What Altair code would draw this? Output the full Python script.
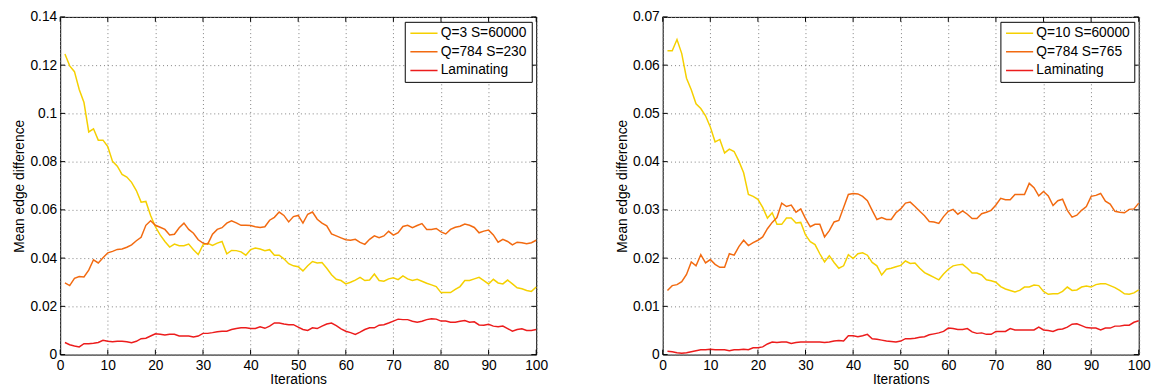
import altair as alt
import pandas as pd

iters = list(range(1, 101))

left_q3 = [0.1246, 0.1197, 0.1173, 0.1099, 0.1045, 0.0923, 0.0936, 0.0889, 0.0889, 0.0862,
           0.0801, 0.0781, 0.0747, 0.0736, 0.0714, 0.068, 0.0632,
           0.0635, 0.0577, 0.053, 0.0496, 0.0469, 0.0446, 0.0458, 0.0451, 0.0451, 0.0458,
           0.0435, 0.0415, 0.0455, 0.0461, 0.0453, 0.0462, 0.0469, 0.0418, 0.0432, 0.0431,
           0.0426, 0.0412, 0.0435, 0.0442, 0.0438, 0.0431, 0.0435, 0.0412,
           0.0412, 0.0397, 0.0377, 0.0368, 0.0364, 0.0347, 0.0368, 0.0386, 0.038, 0.0382,
           0.0358, 0.0331, 0.0312, 0.0307, 0.0293, 0.03, 0.0309, 0.032, 0.0307, 0.0309,
           0.0334, 0.0307, 0.0304, 0.0314, 0.0318, 0.0311, 0.0326, 0.0314, 0.0307, 0.0312,
           0.0304, 0.0296, 0.0289, 0.0282, 0.0257, 0.0257, 0.0257, 0.027, 0.0282, 0.0307,
           0.0307, 0.0314, 0.032, 0.0307, 0.0293, 0.0312, 0.0297, 0.0293, 0.0309, 0.0293,
           0.0277, 0.0273, 0.0266, 0.0262, 0.028]
left_q784 = [0.0297, 0.0286, 0.0316, 0.0324, 0.0322, 0.035, 0.0393, 0.038, 0.0401, 0.0422,
             0.0428, 0.0436, 0.0438, 0.0445, 0.0455, 0.0472, 0.0486, 0.0536, 0.0555, 0.0536,
             0.0528, 0.0519, 0.0496, 0.0499, 0.0526, 0.0545, 0.0519, 0.0503, 0.0476, 0.0462,
             0.0458, 0.0499, 0.0519, 0.0526, 0.0545, 0.0555, 0.0546, 0.0536, 0.0536, 0.0535,
             0.053, 0.0527, 0.053, 0.0557, 0.0569,
             0.0591, 0.0577, 0.055, 0.0572, 0.0577, 0.0545, 0.0582, 0.0591, 0.0561, 0.0545,
             0.0534, 0.05, 0.0492, 0.0484, 0.0476, 0.0474, 0.0478, 0.0465, 0.0457, 0.0478,
             0.0492, 0.0485, 0.0492, 0.0511, 0.0495, 0.0505, 0.0531, 0.0536, 0.0526, 0.0535,
             0.0543, 0.0519, 0.0519, 0.0523, 0.0509, 0.05, 0.0519, 0.0528, 0.0532, 0.0541,
             0.0536, 0.0527, 0.0505, 0.0512, 0.0516, 0.0496, 0.0466, 0.0478, 0.0469, 0.0455,
             0.0466, 0.0464, 0.046, 0.0464, 0.0474]
left_lam = [0.005, 0.0041, 0.0036, 0.0032, 0.0045, 0.0045, 0.0047, 0.005, 0.0059, 0.0055,
            0.0053, 0.0055, 0.0055, 0.0053, 0.0049, 0.0055, 0.0066, 0.0068, 0.0077, 0.0086,
            0.0084, 0.0081, 0.0084, 0.0084, 0.0077, 0.0077, 0.0077, 0.0073, 0.0077, 0.0088,
            0.0088, 0.0091, 0.0095, 0.0097, 0.0097, 0.0104, 0.0108, 0.0111, 0.0111, 0.0108,
            0.0108, 0.0115, 0.0109, 0.0118, 0.0131, 0.0131,
            0.0127, 0.0124, 0.0124, 0.0114, 0.0104, 0.01, 0.0111, 0.0108, 0.0118, 0.0127,
            0.0131, 0.012, 0.0107, 0.0097, 0.0091, 0.0084, 0.0093, 0.0104, 0.0111, 0.0111,
            0.0122, 0.0124, 0.0131, 0.0139, 0.0147, 0.0145, 0.0145, 0.0138, 0.0134, 0.0138,
            0.0145, 0.0149, 0.0147, 0.0139, 0.0139, 0.0134, 0.0134, 0.0138, 0.0141, 0.0134,
            0.0136, 0.0123, 0.0122, 0.0126, 0.0118, 0.0115, 0.0118, 0.0108, 0.0097, 0.0104,
            0.0107, 0.01, 0.01, 0.0104]

right_q10 = [0.063, 0.063, 0.0653, 0.0624, 0.0573, 0.0549, 0.052, 0.051, 0.0495, 0.0472,
             0.0441, 0.0446, 0.0418, 0.0426, 0.0421, 0.0401, 0.0377,
             0.0332, 0.0328, 0.0322, 0.0305, 0.0283, 0.0294, 0.027, 0.027, 0.0283, 0.0283,
             0.0273, 0.0274, 0.0248, 0.0234, 0.0228, 0.0209, 0.0192, 0.0205, 0.0191, 0.0179,
             0.0184, 0.0207, 0.0199, 0.0209, 0.0211, 0.0206, 0.0191, 0.0184,
             0.0165, 0.0177, 0.0179, 0.0182, 0.0185, 0.0194, 0.0189, 0.019, 0.0179, 0.017,
             0.0165, 0.016, 0.0155, 0.0167, 0.0177, 0.0184, 0.0186, 0.0187, 0.0179, 0.0169,
             0.0169, 0.0165, 0.0155, 0.0153, 0.015, 0.0141, 0.0136, 0.0133, 0.013, 0.0133,
             0.014, 0.014, 0.0144, 0.0143, 0.0131, 0.0125, 0.0126, 0.0126, 0.0131, 0.014,
             0.0133, 0.0134, 0.014, 0.0142, 0.014, 0.0145, 0.0147, 0.0147, 0.0143, 0.0139,
             0.0133, 0.0126, 0.0125, 0.0128, 0.0134]
right_q784 = [0.0133, 0.0143, 0.0145, 0.0151, 0.0166, 0.0192, 0.0184, 0.0207, 0.019, 0.0197,
              0.0187, 0.0181, 0.0181, 0.0209, 0.0206, 0.0224, 0.0237, 0.0226, 0.0232, 0.0237,
              0.0244, 0.0261, 0.0274, 0.0284, 0.0314, 0.0307, 0.031, 0.0295, 0.0302, 0.0282,
              0.0265, 0.027, 0.027, 0.0244, 0.0257, 0.0275, 0.0278, 0.0305, 0.0332, 0.0334,
              0.0333, 0.0328, 0.0319, 0.0299,
              0.028, 0.0284, 0.028, 0.028, 0.0294, 0.0302, 0.0314, 0.0316, 0.0307, 0.0297,
              0.0288, 0.0276, 0.0275, 0.0272, 0.0286, 0.0297, 0.0301, 0.0291, 0.0298, 0.0291,
              0.0282, 0.0282, 0.0292, 0.0295, 0.0299, 0.031, 0.0324, 0.0321, 0.0321, 0.0332,
              0.0332, 0.0332, 0.0355, 0.0346, 0.0329, 0.0338, 0.0329, 0.0309, 0.0319, 0.0322,
              0.0299, 0.0285, 0.0289, 0.0299, 0.0307, 0.0328, 0.033, 0.0334, 0.0318, 0.0312,
              0.0297, 0.0295, 0.0294, 0.0301, 0.0302, 0.0314]
right_lam = [0.0007, 0.0006, 0.0004, 0.0003, 0.0004, 0.0006, 0.0008, 0.001, 0.001, 0.0011,
             0.001, 0.001, 0.001, 0.0008, 0.001, 0.001, 0.0011, 0.001, 0.0014, 0.0014,
             0.0016, 0.0022, 0.0026, 0.0025, 0.0026, 0.0026, 0.0023, 0.0025, 0.0026, 0.0026,
             0.0026, 0.0026, 0.0026, 0.0025, 0.0026, 0.0028, 0.0029, 0.0028, 0.0039, 0.0039,
             0.0037, 0.0039, 0.0042, 0.0033, 0.0032, 0.003, 0.0028, 0.0027,
             0.0026, 0.0028, 0.0033, 0.0033, 0.0034, 0.0036, 0.0037, 0.0041, 0.0043, 0.0045,
             0.0048, 0.0055, 0.0054, 0.0052, 0.0052, 0.0054, 0.0047, 0.0044, 0.0045, 0.0042,
             0.0042, 0.0048, 0.0048, 0.0048, 0.0054, 0.0051, 0.0051, 0.0051, 0.0051, 0.0051,
             0.0057, 0.0051, 0.005, 0.0048, 0.0052, 0.0053, 0.0057, 0.0063, 0.0064, 0.006,
             0.0056, 0.0055, 0.0055, 0.0051, 0.0055, 0.0055, 0.0059, 0.0059, 0.0061, 0.0061,
             0.0067, 0.007]

left_names = ["Q=3 S=60000", "Q=784 S=230", "Laminating"]
right_names = ["Q=10 S=60000", "Q=784 S=765", "Laminating"]
colors = ["#f5d000", "#f26a10", "#ec1c1c"]

x_ticks = [0, 10, 20, 30, 40, 50, 60, 70, 80, 90, 100]
left_y_ticks = [0, 0.02, 0.04, 0.06, 0.08, 0.1, 0.12, 0.14]
right_y_ticks = [0, 0.01, 0.02, 0.03, 0.04, 0.05, 0.06, 0.07]

W, H = 483.5, 343
FONT = "Liberation Sans"
FS = 14
TICK = 5


def panel(series, names, yticks, ymax):
    rows = []
    for name, vals in zip(names, series):
        for it, v in zip(iters, vals):
            rows.append({"Iterations": it, "value": v, "series": name})
    df = pd.DataFrame(rows)

    x = alt.X("Iterations:Q", scale=alt.Scale(domain=[0, 100], nice=False),
              axis=alt.Axis(values=x_ticks, title="Iterations", ticks=False, tickSize=0,
                            domain=False, grid=True, gridDash=[1, 3], gridColor="#808080",
                            gridWidth=1, labelFlush=False, labelPadding=4, titlePadding=0,
                            labelFont=FONT, labelFontSize=FS, labelColor="black",
                            titleFont=FONT, titleFontSize=FS, titleFontWeight="normal",
                            titleColor="black"))
    y = alt.Y("value:Q", scale=alt.Scale(domain=[0, ymax], nice=False),
              axis=alt.Axis(values=yticks, title="Mean edge difference", format="~g",
                            ticks=False, tickSize=0, domain=False, grid=True,
                            gridDash=[1, 3], gridColor="#808080", gridWidth=1,
                            labelPadding=3.5, titlePadding=3,
                            labelFont=FONT, labelFontSize=FS, labelColor="black",
                            titleFont=FONT, titleFontSize=FS, titleFontWeight="normal",
                            titleColor="black"))
    lines = alt.Chart(df).mark_line(strokeWidth=1.5).encode(
        x=x, y=y,
        color=alt.Color("series:N", scale=alt.Scale(domain=names, range=colors),
                        legend=alt.Legend(title=None, orient="top-right", offset=5,
                                          fillColor="white", strokeColor="black",
                                          padding=4.5, cornerRadius=0,
                                          symbolType="stroke", symbolSize=760,
                                          symbolStrokeWidth=1.5, labelOffset=2,
                                          clipHeight=14, rowPadding=5, labelFont=FONT,
                                          labelFontSize=FS, labelColor="black")),
    )
    xt = pd.DataFrame({"Iterations": x_ticks})
    yt = pd.DataFrame({"value": yticks})
    tx_bottom = alt.Chart(xt).mark_rule(color="black", strokeWidth=1).encode(
        x=x, y=alt.value(H), y2=alt.value(H - TICK))
    tx_top = alt.Chart(xt).mark_rule(color="black", strokeWidth=1).encode(
        x=x, y=alt.value(0), y2=alt.value(TICK))
    ty_left = alt.Chart(yt).mark_rule(color="black", strokeWidth=1).encode(
        y=y, x=alt.value(0), x2=alt.value(TICK))
    ty_right = alt.Chart(yt).mark_rule(color="black", strokeWidth=1).encode(
        y=y, x=alt.value(W - TICK), x2=alt.value(W))
    return alt.layer(lines, tx_bottom, tx_top, ty_left, ty_right).properties(width=W, height=H)


left = panel([left_q3, left_q784, left_lam], left_names, left_y_ticks, 0.14)
right = panel([right_q10, right_q784, right_lam], right_names, right_y_ticks, 0.07)

chart = alt.hconcat(left, right, spacing=67).resolve_scale(color="independent").resolve_legend(
    color="independent"
).properties(
    padding={"left": 4, "top": -2, "right": 2, "bottom": 5}
).configure_view(stroke="black", strokeWidth=1)

chart.save("out.html", embed_options={"renderer": "svg", "actions": False})
